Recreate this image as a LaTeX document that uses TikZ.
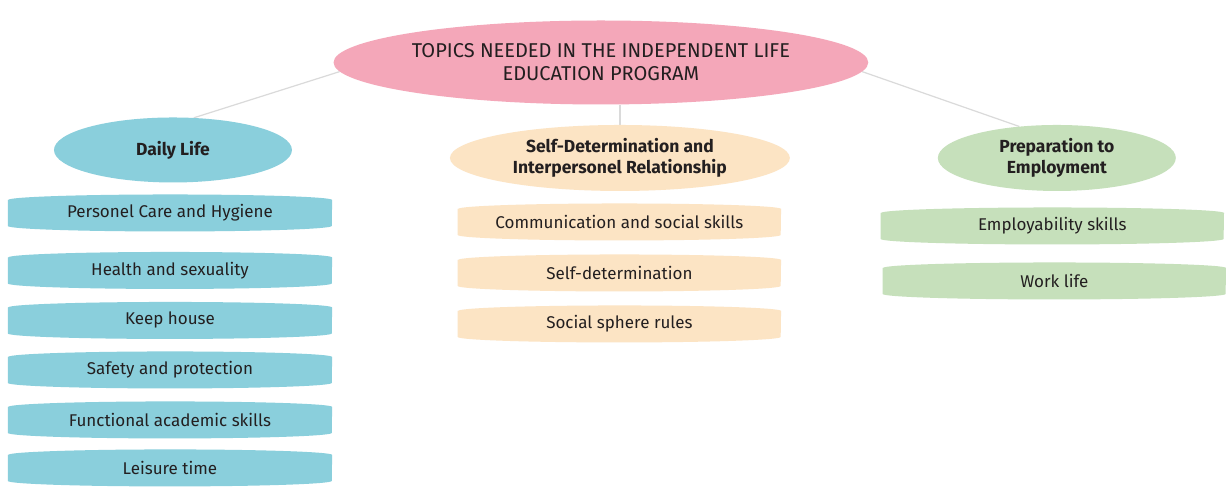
\documentclass[tikz,border=0pt]{standalone}
\usepackage{fontspec}
\setmainfont{Fira Sans}
\usetikzlibrary{shapes.geometric,calc}
\definecolor{rootc}{HTML}{F4A7B9}
\definecolor{bluec}{HTML}{8ACFDC}
\definecolor{peachc}{HTML}{FCE4C4}
\definecolor{greenc}{HTML}{C6E0BB}
\definecolor{txt}{HTML}{231F20}
\definecolor{linec}{HTML}{DADADA}
\pgfdeclarelayer{back}
\pgfdeclarelayer{bg}
\pgfsetlayers{back,bg,main}
\newcommand\pillnode[5]{%
  \node[pill, minimum width=#3pt] (#1) at #2 {#5};
  \pgfmathsetmacro\halfw{#3/2}%
  \begin{pgfonlayer}{bg}
    \fill[#4] ($(#1.west)+(0,-13)$) -- ($(#1.west)+(0,13)$)
      arc[start angle=180, end angle=360, x radius=\halfw pt, y radius=5.5pt]
      -- ($(#1.east)+(0,-13)$)
      arc[start angle=0, end angle=180, x radius=\halfw pt, y radius=5.5pt]
      -- cycle;
  \end{pgfonlayer}}
\begin{document}
\begin{tikzpicture}[x=1pt,y=-1pt,
  ell/.style={ellipse, inner sep=0pt, text=txt, align=center},
  head/.style={ell, font=\bfseries\fontsize{17.5}{21}\selectfont},
  pill/.style={inner sep=0pt, minimum height=37pt, text=txt, font=\fontsize{17}{20}\selectfont},
  conn/.style={draw=linec, line width=1.2pt}]
\begin{pgfonlayer}{back}
\useasboundingbox[fill=white] (0,0) rectangle (1226,484);
\end{pgfonlayer}

\node[ell, fill=rootc, minimum width=522pt, minimum height=84pt,
      font=\fontsize{20}{23}\selectfont] (root) at (601,62.5)
  {TOPICS NEEDED IN THE INDEPENDENT LIFE\\EDUCATION PROGRAM};

\node[head, fill=bluec, minimum width=238pt, minimum height=65pt] (daily) at (173,150) {Daily Life};
\node[head, fill=peachc, minimum width=340pt, minimum height=66pt] (self) at (620,158)
  {Self-Determination and\\Interpersonel Relationship};
\node[head, fill=greenc, minimum width=238pt, minimum height=66pt] (prep) at (1057,158)
  {Preparation to\\Employment};

\begin{pgfonlayer}{bg}
\draw[conn] (root.182) -- (daily.57);
\draw[conn] (self.north) -- (self.north |- root.south);
\draw[conn] (root.358) -- (prep.140);
\end{pgfonlayer}

\pillnode{d1}{(170,213)}{324}{bluec}{Personel Care and Hygiene}
\pillnode{d2}{(170,270.5)}{324}{bluec}{Health and sexuality}
\pillnode{d3}{(170,320.5)}{324}{bluec}{Keep house}
\pillnode{d4}{(170,370)}{324}{bluec}{Safety and protection}
\pillnode{d5}{(170,420)}{324}{bluec}{Functional academic skills}
\pillnode{d6}{(170,468)}{324}{bluec}{Leisure time}

\pillnode{s1}{(619.5,222)}{323}{peachc}{Communication and social skills}
\pillnode{s2}{(619.5,273)}{323}{peachc}{Self-determination}
\pillnode{s3}{(619.5,324)}{323}{peachc}{Social sphere rules}

\pillnode{p1}{(1052.5,226)}{343}{greenc}{Employability skills}
\pillnode{p2}{(1054.5,281)}{343}{greenc}{Work life}
\end{tikzpicture}
\end{document}
